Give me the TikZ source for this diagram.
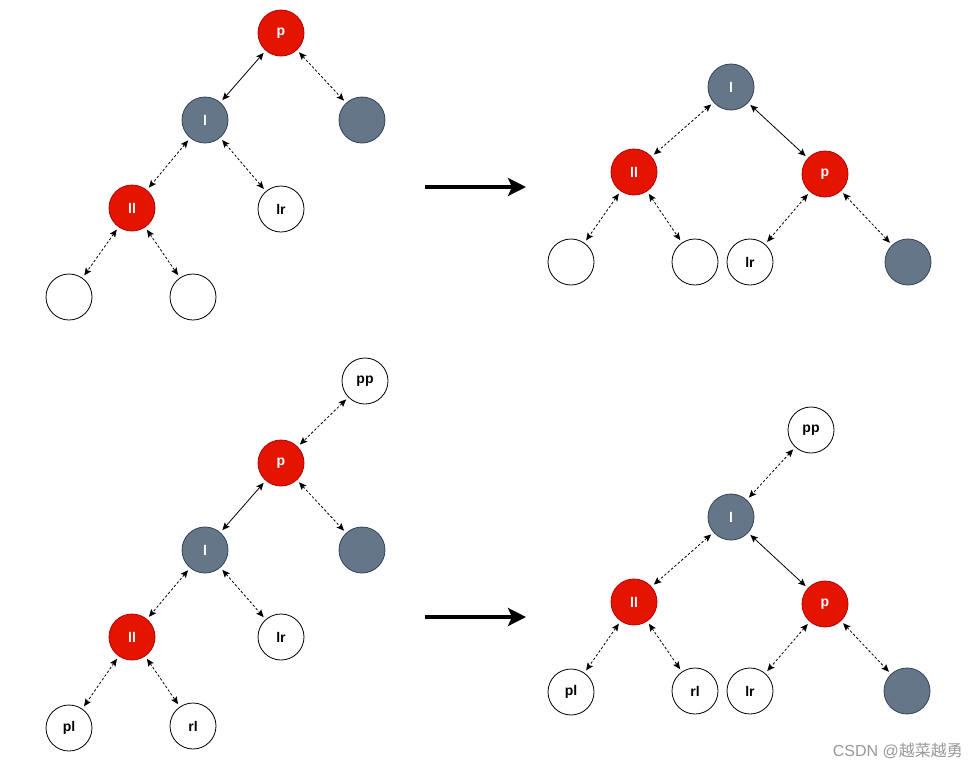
\documentclass[tikz,border=0pt]{standalone}
\usepackage{fontspec}
\setmainfont{Liberation Sans}
\newfontfamily\cjk{Noto Sans CJK SC}
\usetikzlibrary{arrows.meta}
\definecolor{rd}{HTML}{E51400}
\definecolor{rdb}{HTML}{B20000}
\definecolor{gr}{HTML}{647687}
\definecolor{grb}{HTML}{314354}
\begin{document}
\begin{tikzpicture}[x=1pt,y=-1pt,
  nd/.style={circle, minimum size=46pt, inner sep=0pt, draw=black, fill=white, line width=0.8pt,
    font=\fontsize{14}{16}\selectfont\bfseries},
  rn/.style={nd, fill=rd, draw=rdb, text=white},
  gn/.style={nd, fill=gr, draw=grb, text=white},
  sl/.style={{Stealth[length=7.5pt,width=6.5pt,inset=1.5pt]}-{Stealth[length=7.5pt,width=6.5pt,inset=1.5pt]}, line width=0.8pt, shorten <=3pt, shorten >=3pt},
  dl/.style={sl, dash pattern=on 2.5pt off 2pt},
  big/.style={-{Stealth[length=18pt,width=18pt,inset=4pt]}, line width=3.3pt}]
\useasboundingbox (0,0) rectangle (977,769);
\fill[white] (0,0) rectangle (977,769);

% top-left tree
\node[rn] (a1) at (281,33) {p};
\node[gn] (a2) at (205,120) {l};
\node[gn] (a3) at (362,120) {};
\node[rn] (a4) at (132,208) {ll};
\node[nd] (a5) at (281,209) {lr};
\node[nd] (a6) at (69,297) {};
\node[nd] (a7) at (193,297) {};
\draw[sl] (a1) -- (a2);
\draw[dl] (a1) -- (a3);
\draw[dl] (a2) -- (a4);
\draw[dl] (a2) -- (a5);
\draw[dl] (a4) -- (a6);
\draw[dl] (a4) -- (a7);

% top-right tree
\node[gn] (b1) at (731,87) {l};
\node[rn] (b2) at (634,172) {ll};
\node[rn] (b3) at (825,174) {p};
\node[nd] (b4) at (571,262) {};
\node[nd] (b5) at (695,262) {};
\node[nd] (b6) at (750,262) {lr};
\node[gn] (b7) at (908,262) {};
\draw[dl] (b1) -- (b2);
\draw[sl] (b1) -- (b3);
\draw[dl] (b2) -- (b4);
\draw[dl] (b2) -- (b5);
\draw[dl] (b3) -- (b6);
\draw[dl] (b3) -- (b7);

% bottom-left tree
\node[nd] (c0) at (365,381) {pp};
\node[rn] (c1) at (281,463) {p};
\node[gn] (c2) at (205,550) {l};
\node[gn] (c3) at (362,550) {};
\node[rn] (c4) at (132,637) {ll};
\node[nd] (c5) at (281,637) {lr};
\node[nd] (c6) at (69,728) {pl};
\node[nd] (c7) at (193,726) {rl};
\draw[dl] (c0) -- (c1);
\draw[sl] (c1) -- (c2);
\draw[dl] (c1) -- (c3);
\draw[dl] (c2) -- (c4);
\draw[dl] (c2) -- (c5);
\draw[dl] (c4) -- (c6);
\draw[dl] (c4) -- (c7);

% bottom-right tree
\node[nd] (d0) at (811,430) {pp};
\node[gn] (d1) at (731,517) {l};
\node[rn] (d2) at (634,602) {ll};
\node[rn] (d3) at (825,604) {p};
\node[nd] (d4) at (571,692) {pl};
\node[nd] (d5) at (695,691) {rl};
\node[nd] (d6) at (750,691) {lr};
\node[gn] (d7) at (907,691) {};
\draw[dl] (d0) -- (d1);
\draw[dl] (d1) -- (d2);
\draw[sl] (d1) -- (d3);
\draw[dl] (d2) -- (d4);
\draw[dl] (d2) -- (d5);
\draw[dl] (d3) -- (d6);
\draw[dl] (d3) -- (d7);

% transformation arrows
\coordinate (t1s) at (425,187);
\coordinate (t1e) at (526,187);
\coordinate (t2s) at (425,617);
\coordinate (t2e) at (526,617);
\draw[big] (t1s) -- (t1e);
\draw[big] (t2s) -- (t2e);

% watermark
\node[anchor=east, text=black!40, font=\fontsize{16}{18}\selectfont, inner sep=0pt] (wm) at (963,751) {CSDN @{\cjk 越菜越勇}};
\end{tikzpicture}
\end{document}
